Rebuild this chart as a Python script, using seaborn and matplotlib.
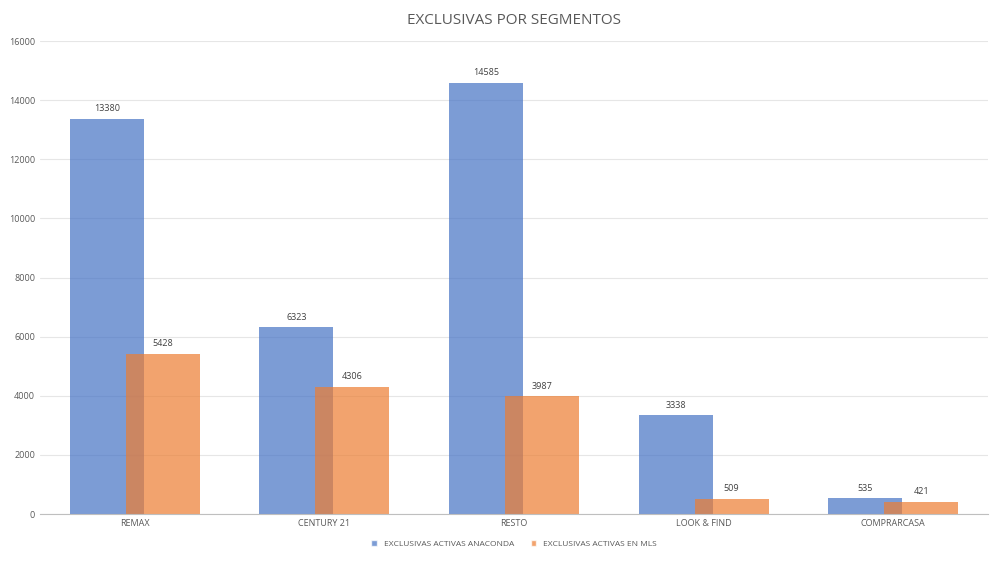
import matplotlib
matplotlib.use("Agg")
import matplotlib.pyplot as plt
import seaborn as sns
import pandas as pd

categories = ["REMAX", "CENTURY 21", "RESTO", "LOOK & FIND", "COMPRARCASA"]
anaconda = [13380, 6323, 14585, 3338, 535]
mls = [5428, 4306, 3987, 509, 421]
series = ["EXCLUSIVAS ACTIVAS ANACONDA", "EXCLUSIVAS ACTIVAS EN MLS"]

df = pd.DataFrame({
    "cat": categories * 2,
    "val": anaconda + mls,
    "serie": [series[0]] * 5 + [series[1]] * 5,
})

sns.set_style("white")
plt.rcParams['font.family'] = ['Open Sans', 'DejaVu Sans']
fig, ax = plt.subplots(figsize=(10, 5.63), dpi=100)
fig.subplots_adjust(left=0.04, right=0.988, top=0.927, bottom=0.087)

sns.barplot(data=df, x="cat", y="val", hue="serie", ax=ax, width=0.8,
            palette=["#4472C4", "#ED7D31"], alpha=0.7, saturation=1, dodge=True)

shift = 0.052
for i, cont in enumerate(ax.containers):
    for p in cont:
        w = p.get_width()
        p.set_width(0.39)
        p.set_x(p.get_x() + (shift if i == 0 else -shift) + (w - 0.39) / 2)
        p.set_edgecolor("none")
    ax.bar_label(cont, fmt="%d", fontsize=6.5, color="#404040", padding=4)

ax.set_ylim(0, 16000)
ax.set_xlim(-0.5, 4.5)
ax.set_yticks(range(0, 16001, 2000))
ax.yaxis.grid(True, color="#e6e6e6", linewidth=0.8)
ax.set_axisbelow(True)
ax.tick_params(axis="both", labelsize=6.5, colors="#595959", length=0)
ax.set_xlabel("")
ax.set_ylabel("")
for s in ["top", "right", "left"]:
    ax.spines[s].set_visible(False)
ax.spines["bottom"].set_color("#bfbfbf")
ax.set_title("EXCLUSIVAS POR SEGMENTOS", fontsize=11, color="#595959", pad=12)
ax.legend(loc="upper center", bbox_to_anchor=(0.5, -0.04), ncol=2, frameon=False,
          fontsize=6, handlelength=0.7, handleheight=0.7, labelcolor="#595959")
fig.savefig("out.png", dpi=100)
